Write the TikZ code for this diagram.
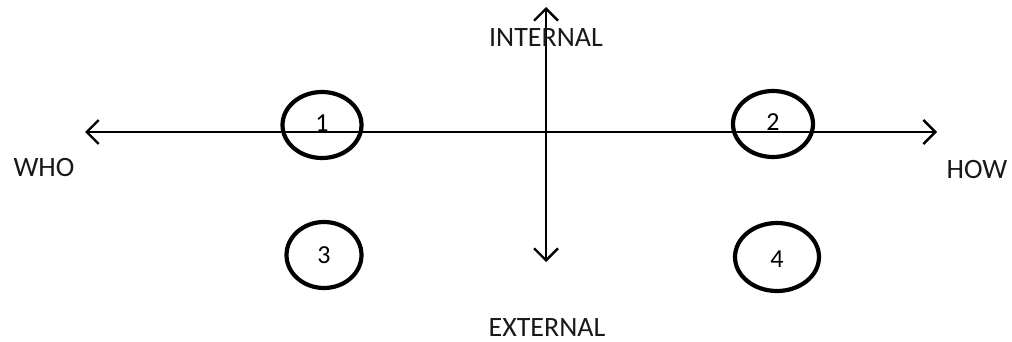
\documentclass[tikz,border=0pt]{standalone}
\usepackage{fontspec}
\setmainfont{Carlito}
\usetikzlibrary{arrows.meta,shapes.geometric}
\begin{document}
\begin{tikzpicture}[x=1pt,y=-1pt,
  axis/.style={line width=2.4pt,{Straight Barb[length=12pt,width=24pt,line width=2.4pt]}-{Straight Barb[length=12pt,width=24pt,line width=2.4pt]}},
  quad/.style={draw,ellipse,line width=4.2pt,inner sep=0pt},
  lbl/.style={font=\fontsize{28}{30}\selectfont,text=black!90},
  num/.style={font=\fontsize{26}{28}\selectfont}]
\useasboundingbox (0,0) rectangle (1012,342);
\coordinate (L) at (85,132);
\coordinate (R) at (937,132);
\coordinate (T) at (546,7);
\coordinate (B) at (546,262);
\draw[axis] (L) -- (R);
\draw[axis] (T) -- (B);
\node[quad,minimum width=79pt,minimum height=66pt] (c1) at (322,125) {};
\node[num] at (322,123) {1};
\node[quad,minimum width=80pt,minimum height=66pt] (c2) at (773,124) {};
\node[num] at (773,122) {2};
\node[quad,minimum width=75pt,minimum height=66pt] (c3) at (324,255) {};
\node[num] at (324,255) {3};
\node[quad,minimum width=84pt,minimum height=68pt] (c4) at (777,257) {};
\node[num] at (777,259) {4};
\node[lbl] (in) at (546,38) {INTERNAL};
\node[lbl] (ex) at (547,328) {EXTERNAL};
\node[lbl] (who) at (44,168) {WHO};
\node[lbl] (how) at (977,170) {HOW};
\end{tikzpicture}
\end{document}
